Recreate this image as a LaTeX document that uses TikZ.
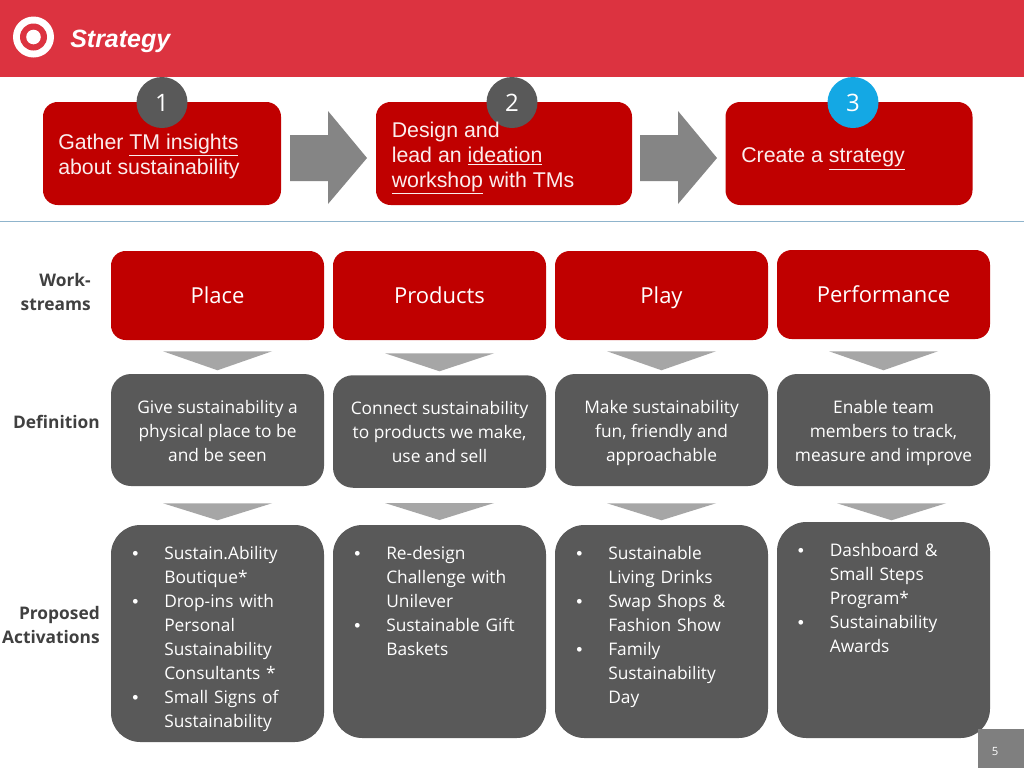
\documentclass[tikz,border=0pt]{standalone}
\usepackage{fontspec}
\setmainfont{Open Sans}
\newfontfamily\arialf{Liberation Sans}
\usetikzlibrary{calc}
\definecolor{hdr}{HTML}{DC3340}
\definecolor{tred}{HTML}{C00000}
\definecolor{dgray}{HTML}{595959}
\definecolor{mgray}{HTML}{7F7F7F}
\definecolor{chev}{HTML}{A6A6A6}
\definecolor{rulec}{HTML}{8FB4CC}
\definecolor{lab}{HTML}{404040}
\definecolor{cyanb}{HTML}{14A8E4}
\newcommand\bitem[1]{\par\lineskip=0pt\noindent\makebox[21.75pt][l]{\hspace{-2.2pt}{\arialf •}}\parbox[t]{112pt}{\raggedright\strut #1\strut}\par}
\newcommand\fs{\rule{0pt}{16pt}}
\newcommand\chevron[4]{\fill[chevfill] ($(#1.south)+(#2-54.5,#3)$) -- ++(109,0) -- ++(-54.5,#4) -- cycle;}
\newcommand\bigarrow[1]{\fill[arrowfill] (#1,135) -- ++(38,0) -- ++(0,-24) -- ++(39,47) -- ++(-39,46) -- ++(0,-23) -- ++(-38,0) -- cycle;}
\tikzset{
  sz/.style 2 args={minimum width=#1*0.75pt,minimum height=#2*0.75pt},
  stepbox/.style={fill=tred,rounded corners=11pt,inner sep=0pt,draw=none},
  stepbody/.style={text=white!93!tred,align=left,anchor=west,inner sep=0pt,font=\arialf\fontsize{16}{18.75}\selectfont},
  num/.style={circle,minimum size=38.25pt,inner sep=0pt,fill=dgray,text=white,font=\fontsize{18}{20}\selectfont},
  stream/.style={fill=tred,rounded corners=11pt,inner sep=0pt,text=white,text height=15.5pt,text depth=3.5pt,font=\fontsize{16.5}{20}\selectfont},
  defbox/.style={fill=dgray,rounded corners=15pt,inner sep=0pt,text=white,align=center,font=\fontsize{13}{18}\selectfont},
  actbox/.style={fill=dgray,rounded corners=22pt,inner sep=0pt},
  acttext/.style={anchor=north west,inner sep=0pt,text=white,text width=135pt,align=left,font=\fontsize{13}{18}\selectfont},
  rowlab/.style={anchor=east,inner sep=0pt,align=right,text=lab,font=\fontsize{13}{18.5}\selectfont\bfseries},
  chevfill/.style={fill=chev},
  arrowfill/.style={fill=mgray!95!white},
}
\begin{document}
\begin{tikzpicture}[x=0.75pt,y=-0.75pt]
\useasboundingbox (0,0) rectangle (1024,768);
\fill[white] (0,0) rectangle (1024,768);
% header
\fill[hdr] (0,0) rectangle (1024,77);
\fill[white] (33.5,37) circle[radius=20.5];
\fill[hdr] (33.5,37) circle[radius=13.5];
\fill[white] (33.5,37) circle[radius=7.3];
\node (title) [anchor=west,inner sep=0pt,text=white,font=\arialf\fontsize{18.75}{22}\selectfont\bfseries\itshape] at (70,41) {Strategy};
\draw[rulec,line width=0.9pt] (0,221.5) -- (1024,221.5);
% steps
\node (s1) [stepbox,sz={238}{103}] at (162,153.5) {};
\node (s2) [stepbox,sz={256}{103}] at (504,153.5) {};
\node (s3) [stepbox,sz={247}{103}] at (849,153.5) {};
\node (n1) [num] at (162,102.5) {1};
\node (n2) [num] at (512,102.5) {2};
\node (n3) [num,fill=cyanb] at (853,102.5) {3};
\node (t1) [stepbody] at (58,156) {Gather \underline{TM insights}\\about sustainability};
\node (t2) [stepbody] at (391.5,158) {Design and\\lead an \underline{ideation}\\\underline{workshop} with TMs};
\node (t3) [stepbody] at (741,159) {Create a \underline{strategy}};
\bigarrow{290}
\bigarrow{640}
% workstreams
\node (l1) [rowlab] at (91,292) {Work-\\streams};
\node (l2) [rowlab] at (100,422) {Definition};
\node (l3) [rowlab] at (100,625) {Proposed\\Activations};
\node (a1) [stream,sz={213}{89}] at (217.5,295.5) {Place};
\node (a2) [stream,sz={213}{89}] at (439.5,295.5) {Products};
\node (a3) [stream,sz={213}{89}] at (661.5,295.5) {Play};
\node (a4) [stream,sz={213}{89}] at (883.5,294.5) {Performance};
\node (b1) [defbox,sz={213}{112}] at (217.5,430) {\fs Give sustainability a\\physical place to be\\and be seen\strut};
\node (b2) [defbox,sz={213}{112.5}] at (439.5,431.5) {\fs Connect sustainability\\to products we make,\\use and sell\strut};
\node (b3) [defbox,sz={213}{112}] at (661.5,430) {\fs Make sustainability\\fun, friendly and\\approachable\strut};
\node (b4) [defbox,sz={213}{112}] at (883.5,430) {\fs Enable team\\members to track,\\measure and improve\strut};
\node (c1) [actbox,sz={213}{217}] at (217.5,633.5) {};
\node (c2) [actbox,sz={213}{213}] at (439.5,631.5) {};
\node (c3) [actbox,sz={213}{213}] at (661.5,631.5) {};
\node (c4) [actbox,sz={213}{216}] at (883.5,630) {};
\node (d1) [acttext] at (135,535) {\bitem{Sustain.Ability\\Boutique*}\bitem{Drop-ins with\\Personal\\Sustainability\\Consultants *}\bitem{Small Signs of\\Sustainability}};
\node (d2) [acttext] at (357,535) {\bitem{Re-design\\Challenge with\\Unilever}\bitem{Sustainable Gift\\Baskets}};
\node (d3) [acttext] at (579,535) {\bitem{Sustainable\\Living Drinks}\bitem{Swap Shops \&\\Fashion Show}\bitem{Family\\Sustainability\\Day}};
\node (d4) [acttext] at (800.5,532) {\bitem{Dashboard \&\\Small Steps\\Program*}\bitem{Sustainability\\Awards}};
\chevron{a1}{0}{11}{19}
\chevron{a2}{0}{13}{18}
\chevron{a3}{0}{11}{19}
\chevron{a4}{0}{12}{19}
\chevron{b1}{0}{17}{17}
\chevron{b2}{0}{15}{17}
\chevron{b3}{0}{17}{17}
\chevron{b4}{8}{17}{17}
% page number
\node (pgbox) [anchor=north west,inner sep=0pt,fill=mgray,minimum width=34.5pt,minimum height=29.25pt] at (978,729) {};
\node (pg) [inner sep=0pt,text=white,font=\fontsize{8.5}{10}\selectfont] at (995,751) {5};
\end{tikzpicture}
\end{document}
